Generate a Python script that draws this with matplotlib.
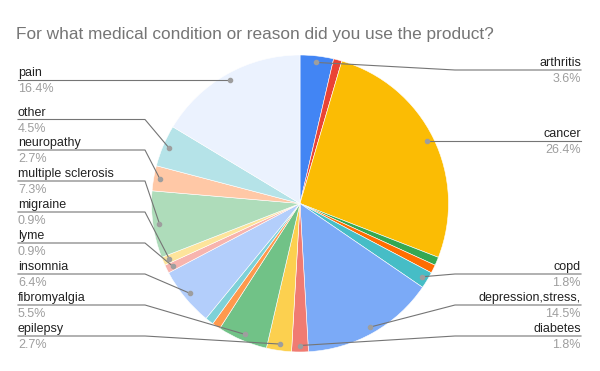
import numpy as np
import matplotlib.pyplot as plt

plt.rcParams['font.family'] = ['Liberation Sans', 'DejaVu Sans']

# data: responses per condition (110 total), in the order the slices are drawn
categories = ["arthritis", "", "cancer", "", "", "copd", "depression,stress,", "diabetes",
              "epilepsy", "fibromyalgia", "", "", "insomnia", "lyme", "migraine",
              "multiple sclerosis", "neuropathy", "other", "pain"]
counts = [4, 1, 29, 1, 1, 2, 16, 2, 3, 6, 1, 1, 7, 1, 1, 8, 3, 5, 18]
colors = ["#4285F4", "#EA4335", "#FBBC04", "#34A853", "#FF6D01", "#46BDC6", "#7BAAF7",
          "#F07B72", "#FCD04F", "#71C287", "#FF994D", "#7ED1D7", "#B3CEFB", "#F7B4AE",
          "#FDE49B", "#AEDCBA", "#FFC8A6", "#B5E3E8", "#EBF2FE"]

title = "For what medical condition or reason did you use the product?"

# label line heights in pixels from the top (None = straight line at the point)
label_rows = {"pain": None, "other": 119.5, "neuropathy": 150, "multiple sclerosis": 181,
              "migraine": 212, "lyme": 243, "insomnia": 274, "fibromyalgia": 305,
              "epilepsy": 336, "arthritis": 70, "cancer": None, "copd": 274,
              "depression,stress,": 305, "diabetes": 336}

W, H = 600, 371
cx, cy, R = 300, H - 203.5, 148.5

fig = plt.figure(figsize=(6, 3.71), dpi=100)
ax = fig.add_axes([0, 0, 1, 1])

wedges, _ = ax.pie(counts, colors=colors, startangle=90, counterclock=False,
                   center=(cx, cy), radius=R,
                   wedgeprops=dict(edgecolor='white', linewidth=0.4))

total = sum(counts)
for w, name, n in zip(wedges, categories, counts):
    if not name:
        continue
    ang = np.deg2rad((w.theta1 + w.theta2) / 2)
    px = cx + 142 * np.cos(ang)
    py = cy + 142 * np.sin(ang)
    ly = py if label_rows[name] is None else H - label_rows[name]
    pct = f"{100 * n / total:.1f}%"
    if px < cx:
        xs = [18, 145, px]
        tx, ha = 18, 'left'
    else:
        xs = [581, 455, px]
        tx, ha = 581, 'right'
    ax.plot(xs, [ly, ly, py], color='#757575', lw=0.8, zorder=3)
    ax.plot(px, py, 'o', color='#9e9e9e', ms=3, zorder=4)
    ax.text(tx, ly + 4, name, ha=ha, va='baseline', fontsize=9, color='#222222')
    ax.text(tx, ly - 3, pct, ha=ha, va='top', fontsize=9, color='#9e9e9e')

ax.text(16, H - 38.5, title, ha='left', va='baseline', fontsize=12.4, color='#757575')

ax.set_xlim(0, W)
ax.set_ylim(0, H)
ax.set_aspect('auto')
ax.axis('off')

fig.savefig('out.png', dpi=100)
